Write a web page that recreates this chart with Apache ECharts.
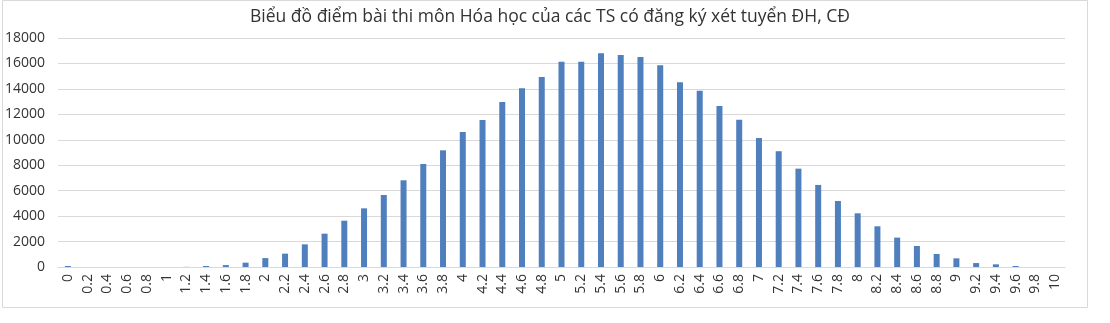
<!DOCTYPE html>
<html>
<head>
<meta charset="utf-8">
<script src="https://cdn.jsdelivr.net/npm/echarts@6/dist/echarts.min.js"></script>
<style>
html,body{margin:0;padding:0;background:#fff;}
#c{width:1110px;height:323px;}
</style>
</head>
<body>
<div id="c"></div>
<script>
const categories = ['0','0.2','0.4','0.6','0.8','1','1.2','1.4','1.6','1.8','2','2.2','2.4','2.6','2.8','3','3.2','3.4','3.6','3.8','4','4.2','4.4','4.6','4.8','5','5.2','5.4','5.6','5.8','6','6.2','6.4','6.6','6.8','7','7.2','7.4','7.6','7.8','8','8.2','8.4','8.6','8.8','9','9.2','9.4','9.6','9.8','10'];
const counts = [80,0,0,0,0,0,10,80,150,340,700,1050,1780,2620,3640,4610,5660,6815,8100,9170,10610,11560,12970,14050,14940,16140,16140,16800,16660,16510,15850,14520,13860,12650,11570,10130,9100,7730,6450,5190,4220,3200,2310,1650,1020,680,310,210,80,0,0];
const yTicks = {min:0, max:18000, interval:2000};
const titleText = 'Biểu đồ điểm bài thi môn Hóa học của các TS có đăng ký xét tuyển ĐH, CĐ';

const chart = echarts.init(document.getElementById('c'), null, {renderer:'canvas'});
chart.setOption({
  animation:false,
  backgroundColor:'#fff',
  title:{text:titleText,left:545,top:3,textAlign:'center',
    textStyle:{fontFamily:'Open Sans',fontSize:17.5,fontWeight:'normal',color:'#333'}},
  graphic:[{type:'rect',shape:{x:2.5,y:0.5,width:1085,height:307},
    style:{fill:null,stroke:'#d9d9d9',lineWidth:1},silent:true}],
  grid:{left:58,right:45,top:38,bottom:56,containLabel:false},
  xAxis:{type:'category',data:categories,
    axisLine:{lineStyle:{color:'#d9d9d9'}},
    axisTick:{show:false},
    axisLabel:{rotate:90,interval:0,margin:7,fontFamily:'Open Sans',fontSize:14,color:'#333'}},
  yAxis:{type:'value',min:yTicks.min,max:yTicks.max,interval:yTicks.interval,
    axisLine:{show:false},axisTick:{show:false},
    splitLine:{lineStyle:{color:'#d9d9d9'}},
    axisLabel:{margin:13,fontFamily:'Open Sans',fontSize:14,color:'#333',formatter:function(v){return String(v);}}},
  series:[{type:'bar',data:counts,barWidth:6,itemStyle:{color:'#4f7fbd'}}]
});
</script>
</body>
</html>
